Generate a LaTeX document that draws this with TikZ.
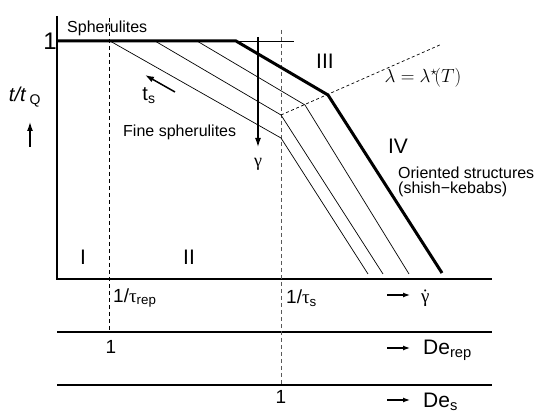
\documentclass[tikz,border=0pt]{standalone}
\usepackage{fix-cm}
\usepackage{fontspec}
\setmainfont{Liberation Sans}
\newfontfamily\grk{Liberation Serif}
\usetikzlibrary{arrows.meta,positioning}

\begin{document}
\begin{tikzpicture}[
  x=1pt, y=-1pt,
  >={Latex[length=9pt,width=6pt]},
  axis/.style={line width=1.6pt},
  master/.style={line width=3pt, line join=miter},
  branch/.style={line width=0.7pt},
  guide/.style={line width=0.8pt, dash pattern=on 4pt off 3pt},
  lbl/.style={font=\fontsize{16}{18}\selectfont, inner sep=0pt},
  roman/.style={font=\fontsize{21}{24}\selectfont, inner sep=0pt},
  scl/.style={font=\fontsize{19}{22}\selectfont, inner sep=0pt},
  mini/.style={->, >={Latex[length=7pt,width=5pt]}, line width=1.2pt}
]
\useasboundingbox (0,0) rectangle (542,414);

\coordinate (ytop) at (57,16);
\coordinate (origin) at (57,279);
\coordinate (xend) at (492,279);
\coordinate (repL) at (57,332);
\coordinate (repR) at (492,332);
\coordinate (sL) at (57,385);
\coordinate (sR) at (492,385);

\draw[axis] (ytop) -- (origin) -- (xend);
\draw[axis] (repL) -- (repR);
\draw[axis] (sL) -- (sR);

\coordinate (reptop) at (109,18);
\coordinate (repbot) at (109,332);
\coordinate (stop) at (281,30);
\coordinate (sbot) at (281,385);
\draw[guide] (reptop) -- (repbot);
\draw[guide, black!65] (stop) -- (sbot);

\coordinate (plateau) at (57,41);
\coordinate (bend) at (236,41);
\coordinate (knee) at (328,95);
\coordinate (drop) at (442,273);
\coordinate (plateauend) at (294,41);
\draw[master] (plateau) -- (bend) -- (knee) -- (drop);
\draw[branch] (bend) -- (plateauend);

\coordinate (a0) at (110,41);
\coordinate (a1) at (281,138);
\coordinate (a2) at (368,274);
\coordinate (b0) at (155,41);
\coordinate (b1) at (281,115);
\coordinate (b2) at (383,274);
\coordinate (c0) at (197,41);
\coordinate (c1) at (305,105);
\coordinate (c2) at (409,274);
\draw[branch] (a0) -- (a1) -- (a2);
\draw[branch] (b0) -- (b1) -- (b2);
\draw[branch] (c0) -- (c1) -- (c2);

\coordinate (lamend) at (442,44);
\draw[branch, dash pattern=on 3pt off 2.5pt] (b1) -- (lamend);

% labels in the plot
\node[lbl, anchor=west] (spher) at (67,28) {Spherulites};
\node[font=\fontsize{24}{26}\selectfont, inner sep=0pt] (one) at (50,41) {1};
\node[font=\fontsize{20}{22}\selectfont, inner sep=0pt] (ratio) at (25,97) {\textit{t/t}\,\textsubscript{Q}};
\coordinate (uptail) at (30,147);
\coordinate (uptip) at (30,122);
\draw[->, line width=1.3pt] (uptail) -- (uptip);

\coordinate (tstail) at (175,92);
\coordinate (tstip) at (145,75);
\draw[->, line width=1.5pt] (tstail) -- (tstip);
\node[font=\fontsize{20}{22}\selectfont, inner sep=0pt] (ts) at (149,96) {t\textsubscript{s}};
\node[lbl, anchor=west] (fine) at (123,132) {Fine spherulites};

\coordinate (gtail) at (258,37);
\coordinate (gtip) at (258,147);
\draw[->, line width=1.3pt] (gtail) -- (gtip);
\node[font=\grk\fontsize{18}{20}\selectfont, inner sep=0pt] (gam) at (258,164) {γ};

\node[roman] (three) at (325,61) {III};
\node[font=\fontsize{19}{22}\selectfont, inner sep=0pt] (lam) at (423,78) {$\lambda=\lambda^{\star}\!(T)$};
\node[roman] (four) at (398,146) {IV};
\node[lbl, anchor=west] (ori) at (398,173) {Oriented structures};
\node[lbl, below=3pt of ori.south west, anchor=north west] (kebab) {(shish−kebabs)};

\node[roman] (one1) at (83,257) {I};
\node[roman] (two) at (189,257) {II};

% scales below
\node[scl, anchor=west] (taurep) at (113,298) {1/{\grk τ}\textsubscript{rep}};
\node[scl, anchor=west] (taus) at (286,298) {1/{\grk τ}\textsubscript{s}};
\node[scl] (onerep) at (111,347) {1};
\node[scl] (ones) at (281,397) {1};

\coordinate (ga) at (387,295);
\coordinate (gb) at (410,295);
\draw[mini] (ga) -- (gb);
\node[font=\grk\fontsize{19}{22}\selectfont, inner sep=0pt, anchor=west] (rate) at (421,298) {\ooalign{γ\cr\hidewidth˙\hidewidth\cr}};

\coordinate (ra) at (387,348);
\coordinate (rb) at (410,348);
\draw[mini] (ra) -- (rb);
\node[font=\fontsize{21}{24}\selectfont, inner sep=0pt, anchor=west] (derep) at (423,350) {De\textsubscript{rep}};

\coordinate (sa) at (387,400);
\coordinate (sb) at (410,400);
\draw[mini] (sa) -- (sb);
\node[font=\fontsize{21}{24}\selectfont, inner sep=0pt, anchor=west] (des) at (423,402) {De\textsubscript{s}};

\end{tikzpicture}
\end{document}
